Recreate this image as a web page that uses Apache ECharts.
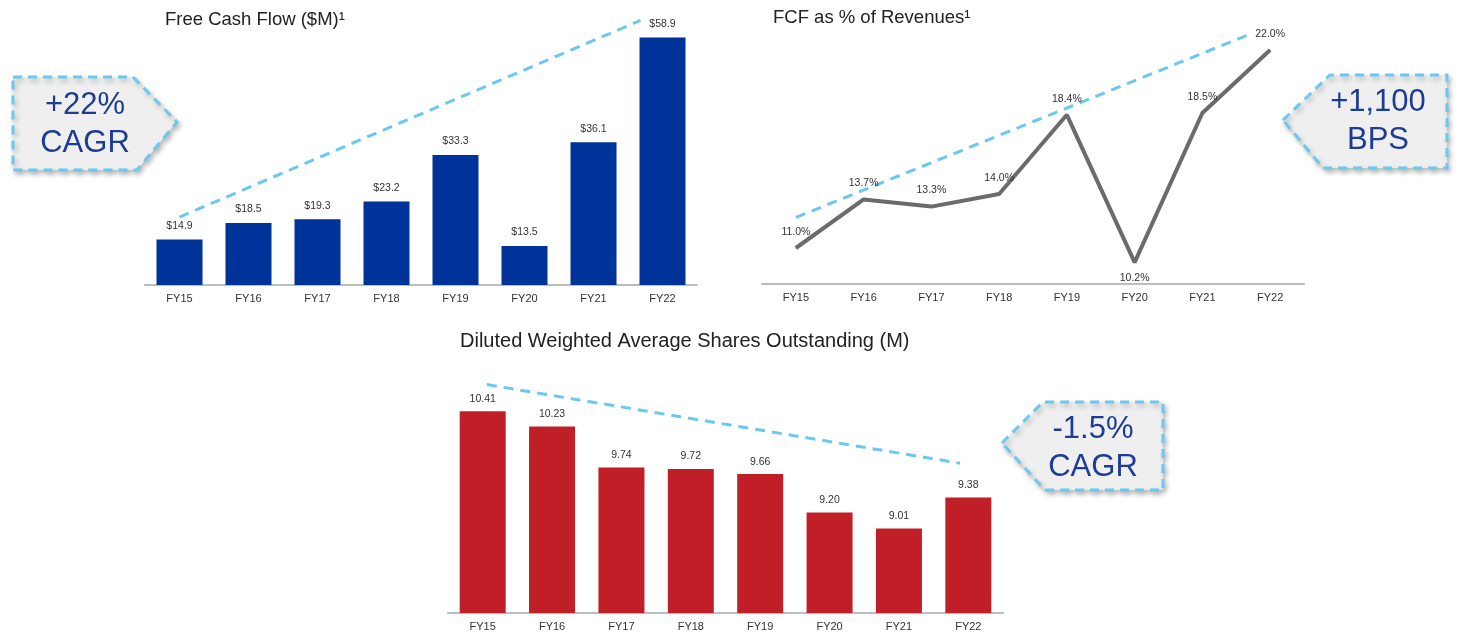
<!DOCTYPE html>
<html>
<head>
<meta charset="utf-8">
<script src="https://cdn.jsdelivr.net/npm/echarts@6/dist/echarts.min.js"></script>
<style>
html,body{margin:0;padding:0;background:#fff;}
#c{width:1458px;height:638px;}
</style>
</head>
<body>
<div id="c"></div>
<script>
const categories = ['FY15','FY16','FY17','FY18','FY19','FY20','FY21','FY22'];
const fcf = [14.9, 18.5, 19.3, 23.2, 33.3, 13.5, 36.1, 58.9];
const fcfPct = [11.0, 13.7, 13.3, 14.0, 18.4, 10.2, 18.5, 22.0];
const shares = [10.41, 10.23, 9.74, 9.72, 9.66, 9.20, 9.01, 9.38];
const fcfTrend = [[0, 19.8], [6.68, 62.6]];
const pctTrend = [[0, 12.7], [6.65, 22.8]];
const sharesTrend = [[0.06, 10.73], [6.88, 9.79]];

const FONT = '"Liberation Sans", Arial, sans-serif';
const BLUE = '#003399';
const RED = '#c01f28';
const GREY = '#6b6b6b';
const DASH = '#6cc8ef';
const TXT = '#222';

const chart = echarts.init(document.getElementById('c'), null, {renderer: 'canvas'});

function catAxis(gi) {
  return {
    type: 'category', gridIndex: gi, data: categories,
    axisLine: {show: true, lineStyle: {color: '#bdbdbd', width: 2}},
    axisTick: {show: false},
    axisLabel: {color: '#333', fontSize: 11, fontFamily: FONT, margin: 8}
  };
}
function valXAxis(gi) {
  return {type: 'value', gridIndex: gi, min: -0.5, max: 7.5, show: false};
}
function yAxis(gi, min, max) {
  return {type: 'value', gridIndex: gi, min: min, max: max, show: false, splitLine: {show: false}};
}
function trend(xi, yi, data) {
  return {
    type: 'line', xAxisIndex: xi, yAxisIndex: yi, data: data,
    symbol: 'none', silent: true, clip: false,
    lineStyle: {color: DASH, width: 3, type: [10, 7]}, z: 1
  };
}
const lblStyle = {color: '#333', fontSize: 10.5, fontFamily: FONT};

function callout(points, text, cx, cy) {
  return [
    {
      type: 'polygon', shape: {points: points}, z: 10,
      style: {
        fill: '#efefef', stroke: DASH, lineWidth: 3, lineDash: [9, 6],
        shadowBlur: 5, shadowOffsetX: 2, shadowOffsetY: 3, shadowColor: 'rgba(0,0,0,0.25)'
      }
    },
    {
      type: 'text', x: cx, y: cy, z: 11,
      style: {
        text: text, fill: '#1d3c94', font: '31px ' + FONT,
        align: 'center', verticalAlign: 'middle', textAlign: 'center', textVerticalAlign: 'middle',
        lineHeight: 38
      }
    }
  ];
}

const option = {
  animation: false,
  backgroundColor: '#fff',
  title: [
    {text: 'Free Cash Flow ($M)¹', left: 160, top: 5, textStyle: {fontSize: 18.5, fontWeight: 'normal', color: TXT, fontFamily: FONT}},
    {text: 'FCF as % of Revenues¹', left: 768, top: 3, textStyle: {fontSize: 18.5, fontWeight: 'normal', color: TXT, fontFamily: FONT}},
    {text: 'Diluted Weighted Average Shares Outstanding (M)', left: 455, top: 326, textStyle: {fontSize: 20, fontWeight: 'normal', color: TXT, fontFamily: FONT}}
  ],
  grid: [
    {left: 145, top: 14, width: 552, height: 271},
    {left: 762, top: 32, width: 542, height: 252},
    {left: 448, top: 362, width: 555, height: 251}
  ],
  xAxis: [catAxis(0), catAxis(1), catAxis(2), valXAxis(0), valXAxis(1), valXAxis(2)],
  yAxis: [yAxis(0, 5, 64), yAxis(1, 9, 23), yAxis(2, 8, 11)],
  series: [
    {
      type: 'bar', xAxisIndex: 0, yAxisIndex: 0, data: fcf, barWidth: 46,
      itemStyle: {color: BLUE},
      label: Object.assign({show: true, position: 'top', distance: 8, formatter: p => '$' + p.value.toFixed(1)}, lblStyle)
    },
    {
      type: 'line', xAxisIndex: 1, yAxisIndex: 1,
      data: fcfPct.map((v, i) => v === Math.min(...fcfPct) ? {value: v, label: {position: 'bottom'}} : v),
      symbol: 'circle', symbolSize: 1, itemStyle: {color: GREY},
      lineStyle: {color: GREY, width: 4},
      label: Object.assign({show: true, position: 'top', distance: 10, formatter: p => p.value.toFixed(1) + '%'}, lblStyle),
      z: 3
    },
    {
      type: 'bar', xAxisIndex: 2, yAxisIndex: 2, data: shares, barWidth: 46,
      itemStyle: {color: RED},
      label: Object.assign({show: true, position: 'top', distance: 7, formatter: p => p.value.toFixed(2)}, lblStyle)
    },
    trend(3, 0, fcfTrend),
    trend(4, 1, pctTrend),
    trend(5, 2, sharesTrend)
  ],
  graphic: [].concat(
    callout([[13, 77], [133, 77], [177, 122], [137, 170], [13, 170]], '+22%\nCAGR', 85, 124),
    callout([[1283, 120], [1330, 75], [1447, 75], [1447, 168], [1323, 168]], '+1,100\nBPS', 1378, 121),
    callout([[1002, 443], [1043, 402], [1163, 402], [1163, 490], [1045, 490]], '-1.5%\nCAGR', 1093, 448)
  )
};
chart.setOption(option);
</script>
</body>
</html>
